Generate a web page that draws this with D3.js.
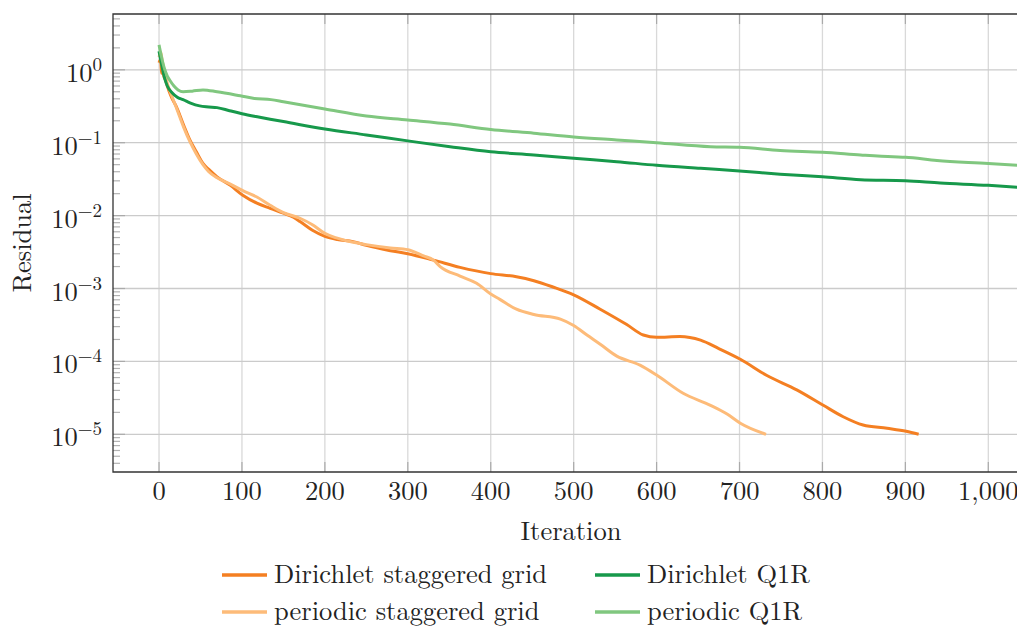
<!DOCTYPE html>
<html>
<head>
<meta charset="utf-8">
<script src="https://cdn.jsdelivr.net/npm/d3@7"></script>
<style>
  html, body { margin: 0; padding: 0; background: #fff; }
  svg { display: block; }
</style>
</head>
<body>
<svg id="chart" width="1017" height="627"></svg>
<script>
// Residual histories: [iteration, residual]
const dirichletStaggered = [
  [0,1.25],[2,1.4],[3,0.9],[4,1.05],[6,0.8],[8,0.72],[10,0.6],[15,0.42],[21,0.31],[30,0.17],
  [37,0.11],[45,0.075],[53,0.052],[60,0.043],[70,0.034],[86,0.026],[101,0.019],[118,0.0148],
  [134,0.0126],[150,0.0108],[162,0.0095],[170,0.0083],[185,0.0063],[200,0.0052],[215,0.0047],
  [234,0.0044],[250,0.0039],[279,0.0033],[300,0.0030],[331,0.00245],[363,0.00195],[400,0.0016],
  [431,0.00145],[452,0.00128],[475,0.00105],[500,0.00082],[532,0.00052],[564,0.00032],
  [584,0.00023],[600,0.000214],[628,0.00022],[653,0.000196],[675,0.00015],[701,0.000107],
  [733,0.000064],[769,0.0000407],[801,0.000025],[825,0.0000174],[849,0.0000134],
  [878,0.0000121],[901,0.000011],[916,0.00001]
];
const periodicStaggered = [
  [0,1.5],[2,1.75],[4,1.3],[7,0.9],[10,0.65],[15,0.45],[21,0.3],[30,0.16],[37,0.105],
  [45,0.07],[53,0.05],[60,0.04],[70,0.033],[86,0.027],[101,0.022],[118,0.018],[134,0.0139],
  [150,0.011],[170,0.0092],[185,0.0075],[200,0.0057],[215,0.0049],[234,0.0043],[250,0.0040],
  [279,0.0036],[300,0.0034],[319,0.0028],[331,0.00245],[339,0.002],[363,0.00148],[383,0.00118],
  [400,0.00084],[411,0.00071],[431,0.00052],[452,0.00044],[484,0.00038],[500,0.00031],
  [516,0.00023],[532,0.000172],[552,0.000118],[580,0.000089],[600,0.000065],[632,0.0000365],
  [665,0.000025],[685,0.000019],[701,0.0000142],[732,0.00001]
];
const dirichletQ1R = [
  [0,1.8],[3,1.2],[7,0.75],[10,0.6],[16,0.48],[22,0.42],[29,0.39],[38,0.35],[49,0.32],
  [60,0.31],[70,0.303],[85,0.275],[100,0.25],[120,0.225],[134,0.21],[150,0.195],[200,0.154],
  [250,0.128],[300,0.106],[351,0.088],[400,0.075],[452,0.068],[500,0.061],[552,0.055],
  [600,0.049],[653,0.0445],[700,0.041],[749,0.037],[800,0.034],[846,0.031],[900,0.030],
  [942,0.028],[1000,0.026],[1035,0.0245]
];
const periodicQ1R = [
  [0,2.2],[3,1.5],[7,1.0],[10,0.82],[13,0.72],[18,0.6],[23,0.53],[29,0.5],[40,0.51],[53,0.53],
  [70,0.5],[98,0.44],[115,0.405],[135,0.39],[150,0.365],[200,0.29],[250,0.232],[300,0.205],
  [351,0.18],[400,0.152],[452,0.135],[500,0.12],[552,0.109],[600,0.1],[665,0.088],[700,0.0865],
  [749,0.078],[800,0.074],[846,0.068],[885,0.064],[900,0.063],[938,0.057],[1000,0.052],
  [1035,0.049]
];

const seriesNames = ["Dirichlet staggered grid", "periodic staggered grid", "Dirichlet Q1R", "periodic Q1R"];
const seriesColors = ["#f47f22", "#fdbb79", "#17994b", "#80c77f"];
const seriesData = [dirichletStaggered, periodicStaggered, dirichletQ1R, periodicQ1R];

const xTicks = [0, 100, 200, 300, 400, 500, 600, 700, 800, 900, 1000];
const yTickExponents = [0, -1, -2, -3, -4, -5];

const serif = "'Latin Modern Roman', 'Liberation Serif', serif";
const fontSize = 26.5;
const svg = d3.select("#chart").attr("font-family", serif);
const plotLeft = 113, plotRight = 1017, plotTop = 14, plotBottom = 472;

const x = d3.scaleLinear().domain([-55.5, 1034.6]).range([plotLeft, plotRight]);
const y = d3.scaleLog().domain([3.04e-6, 5.83]).range([plotBottom, plotTop]);

svg.append("defs").append("clipPath").attr("id", "plotClip")
  .append("rect").attr("x", plotLeft).attr("y", plotTop)
  .attr("width", plotRight - plotLeft).attr("height", plotBottom - plotTop);

// grid
const grid = svg.append("g");
grid.selectAll("line.gx").data(xTicks).join("line")
  .attr("x1", d => x(d)).attr("x2", d => x(d)).attr("y1", plotTop).attr("y2", plotBottom)
  .attr("stroke", "#d9d9d9").attr("stroke-width", 1.3);
grid.selectAll("line.gy").data(yTickExponents).join("line")
  .attr("x1", plotLeft).attr("x2", plotRight)
  .attr("y1", d => y(Math.pow(10, d))).attr("y2", d => y(Math.pow(10, d)))
  .attr("stroke", "#cbcbcb").attr("stroke-width", 1.3);

// minor ticks on the log axis
const minor = [];
for (let e = -6; e <= 0; e++) {
  for (let m = 2; m <= 9; m++) {
    const v = m * Math.pow(10, e);
    if (v >= y.domain()[0] && v <= y.domain()[1]) minor.push(v);
  }
}
const ticks = svg.append("g").attr("stroke", "#b3b3b3").attr("stroke-width", 1.2);
ticks.selectAll("line.my").data(minor).join("line")
  .attr("x1", plotLeft).attr("x2", plotLeft + 7).attr("y1", d => y(d)).attr("y2", d => y(d));
ticks.selectAll("line.My").data(yTickExponents).join("line")
  .attr("x1", plotLeft).attr("x2", plotLeft + 12)
  .attr("y1", d => y(Math.pow(10, d))).attr("y2", d => y(Math.pow(10, d)))
  .attr("stroke", "#aaa");
ticks.selectAll("line.bx").data(xTicks).join("line")
  .attr("x1", d => x(d)).attr("x2", d => x(d)).attr("y1", plotBottom).attr("y2", plotBottom - 10).attr("stroke", "#aaa");
ticks.selectAll("line.tx").data(xTicks).join("line")
  .attr("x1", d => x(d)).attr("x2", d => x(d)).attr("y1", plotTop).attr("y2", plotTop + 10).attr("stroke", "#aaa");

// curves
const line = d3.line().x(d => x(d[0])).y(d => y(d[1])).curve(d3.curveMonotoneX);
const plot = svg.append("g").attr("clip-path", "url(#plotClip)");
plot.selectAll("path").data(seriesData).join("path")
  .attr("d", line).attr("fill", "none")
  .attr("stroke", (d, i) => seriesColors[i]).attr("stroke-width", 3)
  .attr("stroke-linejoin", "round").attr("stroke-linecap", "butt");

// frame
svg.append("path").attr("d", `M${plotRight},${plotTop}H${plotLeft}V${plotBottom}H${plotRight}`)
  .attr("stroke", "#333").attr("stroke-width", 1.3).attr("fill", "none");

// tick labels
const fmt = d3.format(",");
svg.append("g").attr("fill", "#222").selectAll("text").data(xTicks).join("text")
  .attr("x", d => x(d)).attr("y", 500).attr("text-anchor", "middle")
  .attr("font-size", fontSize).text(d => fmt(d));

const yl = svg.append("g").attr("fill", "#222").selectAll("text").data(yTickExponents).join("text")
  .attr("x", 102).attr("y", d => y(Math.pow(10, d)) + 12).attr("text-anchor", "end")
  .attr("font-size", fontSize);
yl.append("tspan").text("10");
yl.append("tspan").attr("dy", -11).attr("font-size", 19)
  .text(d => d < 0 ? "\u2212" + Math.abs(d) : String(d));

// axis titles
svg.append("text").attr("x", 571).attr("y", 540).attr("text-anchor", "middle")
  .attr("fill", "#222").attr("font-size", fontSize).text("Iteration");
svg.append("text").attr("transform", "translate(31,243) rotate(-90)").attr("text-anchor", "middle")
  .attr("fill", "#222").attr("font-size", fontSize).text("Residual");

// legend
const legendPos = [[222, 575], [222, 612], [595, 575], [595, 612]];
const lg = svg.append("g").selectAll("g").data(seriesNames).join("g")
  .attr("transform", (d, i) => `translate(${legendPos[i][0]},${legendPos[i][1]})`);
lg.append("line").attr("x1", 0).attr("x2", 45).attr("y1", 0).attr("y2", 0)
  .attr("stroke", (d, i) => seriesColors[i]).attr("stroke-width", 3.5);
lg.append("text").attr("x", 52).attr("y", 8).attr("fill", "#222").attr("font-size", fontSize).text(d => d);
</script>
</body>
</html>
